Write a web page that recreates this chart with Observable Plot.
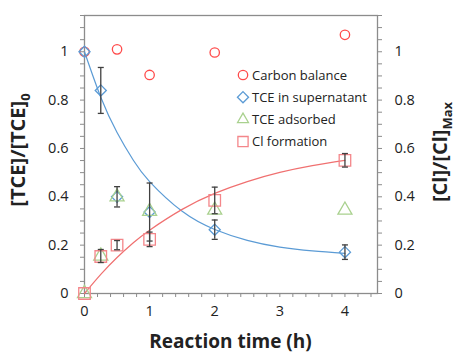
<!DOCTYPE html>
<html><head><meta charset="utf-8">
<script src="https://cdn.jsdelivr.net/npm/d3@7"></script>
<script src="https://cdn.jsdelivr.net/npm/@observablehq/plot@0.6"></script>
<style>
body{margin:0;background:#fff;}
#wrap{position:relative;width:456px;height:353px;}
</style></head><body><div id="wrap"></div>
<script>
const carbonTime=[0,0.5,1,2,4];
const carbonVal=[1.0,1.01,0.904,0.997,1.07];
const supTime=[0,0.25,0.5,1,2,4];
const supVal=[1.0,0.84,0.40,0.337,0.264,0.171];
const supErr=[0,0.095,0.042,0.12,0.04,0.03];
const adsTime=[0,0.25,0.5,1,2,4];
const adsVal=[0,0.155,0.40,0.34,0.345,0.345];
const adsErr=[0,0.027,0,0,0,0];
const clTime=[0,0.25,0.5,1,2,4];
const clVal=[0,0.153,0.20,0.224,0.385,0.551];
const clErr=[0,0,0.019,0.03,0.055,0.028];
const fitTime=[0,0.25,0.5,0.75,1,1.5,2,2.5,3,3.5,4];
const supFit=[1.0,0.812,0.666,0.551,0.463,0.34,0.265,0.22,0.192,0.176,0.166];
const clFit=[0,0.079,0.149,0.21,0.262,0.348,0.414,0.463,0.501,0.529,0.551];
const xTicks=[0,1,2,3,4];
const yTicks=[0,0.2,0.4,0.6,0.8,1];
const xMinor=d3.range(0,23).map(i=>+(i*0.2).toFixed(2));
const yMinor=d3.range(0,24).map(i=>+(i*0.05).toFixed(2));
const seriesNames=["Carbon balance","TCE in supernatant","TCE adsorbed","Cl formation"];
const seriesColors=["#ff4b4b","#5b9bd5","#a9d18e","#f4868a"];
const seriesSymbols=["circle","diamond2","triangle","square"];
const seriesR=[4.7,5,5.2,6.5];

const mk=(t,v,e)=>t.map((x,i)=>({x,y:v[i],e:e?e[i]:0}));
const carbon=mk(carbonTime,carbonVal);
const sup=mk(supTime,supVal,supErr);
const ads=mk(adsTime,adsVal,adsErr);
const cl=mk(clTime,clVal,clErr);
const supCurve=fitTime.map((x,i)=>({x,y:supFit[i]}));
const clCurve=fitTime.map((x,i)=>({x,y:clFit[i]}));
const errs=[...sup,...ads,...cl].filter(d=>d.e>0);
const cap={draw(ctx){ctx.moveTo(-3,0);ctx.lineTo(3,0);}};
const axisColor="#8c8c8c";
const fmt=d=>String(d);

const dots=(data,k)=>Plot.dot(data,{x:"x",y:"y",symbol:seriesSymbols[k],r:seriesR[k],stroke:seriesColors[k],fill:"none",strokeWidth:1.3});

const chart=Plot.plot({
  width:456,height:353,
  marginLeft:84,marginRight:79,marginTop:15,marginBottom:60,
  x:{domain:[0,4.5]},
  y:{domain:[0,1.15]},
  style:{fontFamily:"'Open Sans', sans-serif",fontSize:"14.5px",color:"#222",background:"white",overflow:"visible"},
  marks:[
    Plot.axisX({ticks:xMinor,text:null,tickSize:4,stroke:axisColor,label:null}),
    Plot.axisX({ticks:xTicks,tickSize:0,tickPadding:12,label:null,fontSize:14.5,tickFormat:fmt}),
    Plot.axisY({ticks:yMinor,text:null,tickSize:4,stroke:axisColor,label:null}),
    Plot.axisY({ticks:yTicks,tickSize:0,tickPadding:16,label:null,fontSize:14.5,tickFormat:fmt}),
    Plot.axisY({anchor:"right",ticks:yMinor,text:null,tickSize:4,stroke:axisColor,label:null}),
    Plot.axisY({anchor:"right",ticks:yTicks,tickSize:0,tickPadding:17,label:null,fontSize:14.5,tickFormat:fmt}),
    Plot.frame({stroke:axisColor,strokeWidth:1.3}),
    Plot.line(supCurve,{x:"x",y:"y",curve:"natural",stroke:seriesColors[1],strokeWidth:1.2}),
    Plot.line(clCurve,{x:"x",y:"y",curve:"natural",stroke:"#f07070",strokeWidth:1.2}),
    dots(carbon,0),dots(sup,1),dots(ads,2),dots(cl,3),
    Plot.ruleX(errs,{x:"x",y1:d=>d.y-d.e,y2:d=>d.y+d.e,stroke:"#404040",strokeWidth:1.3}),
    Plot.dot(errs,{x:"x",y:d=>d.y-d.e,symbol:cap,stroke:"#404040",strokeWidth:1.3}),
    Plot.dot(errs,{x:"x",y:d=>d.y+d.e,symbol:cap,stroke:"#404040",strokeWidth:1.3})
  ]
});
document.getElementById("wrap").appendChild(chart);

const svg=d3.select(chart);
// legend
const lg=svg.append("g").attr("font-family","'Open Sans', sans-serif").attr("font-size",13).attr("fill","#222").attr("text-anchor","start");
seriesNames.forEach((name,i)=>{
  const y=75+i*22.2;
  const size=Math.PI*seriesR[i]*seriesR[i];
  const symType={circle:d3.symbolCircle,diamond2:d3.symbolDiamond2,triangle:d3.symbolTriangle2,square:d3.symbolSquare2}[seriesSymbols[i]];
  lg.append("path").attr("d",d3.symbol(symType,size)()).attr("transform",`translate(243,${y})`)
    .attr("fill","none").attr("stroke",seriesColors[i]).attr("stroke-width",1.3);
  lg.append("text").attr("x",252).attr("y",y).attr("dy","0.36em").text(name);
});
// axis titles
const tf="'Open Sans', sans-serif";
svg.append("text").attr("font-family",tf).attr("font-size",19).attr("font-weight","bold").attr("fill","#222")
  .attr("x",230.5).attr("y",348).attr("text-anchor","middle").text("Reaction time (h)");
const lt=svg.append("text").attr("font-family",tf).attr("font-size",20).attr("font-weight","bold").attr("fill","#222")
  .attr("transform","translate(25,150) rotate(-90)").attr("text-anchor","middle");
lt.append("tspan").text("[TCE]/[TCE]");
lt.append("tspan").attr("font-size",13).attr("dy",5).text("0");
const rt=svg.append("text").attr("font-family",tf).attr("font-size",20).attr("font-weight","bold").attr("fill","#222")
  .attr("transform","translate(447,152) rotate(-90)").attr("text-anchor","middle");
rt.append("tspan").text("[Cl]/[Cl]");
rt.append("tspan").attr("font-size",13).attr("dy",5).text("Max");
</script></body></html>
